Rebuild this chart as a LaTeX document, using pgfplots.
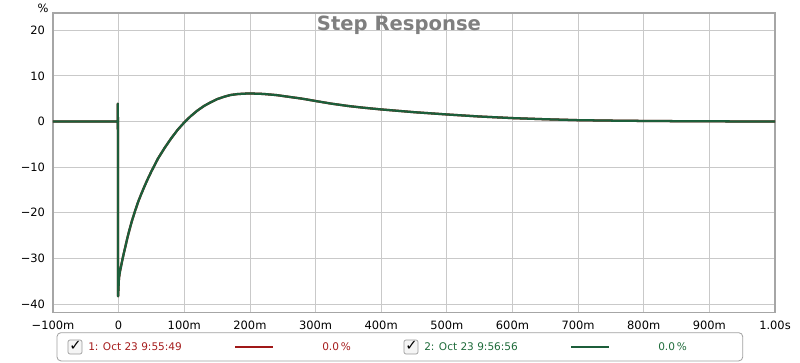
\documentclass[border=0pt]{standalone}
\usepackage{pgfplots}
\pgfplotsset{compat=1.18}
\usepackage{fontspec}
\setmainfont{DejaVu Sans}
\definecolor{axgray}{HTML}{A6A6A6}
\definecolor{gridgray}{HTML}{C9C9C9}
\definecolor{ttlgray}{HTML}{7F7F7F}
\definecolor{ser1}{HTML}{A01818}
\definecolor{ser2}{HTML}{1C5E3A}
\definecolor{txt1}{HTML}{A51C1C}
\definecolor{txt2}{HTML}{1E6B3A}
\pgfplotstableread{
t v
-100 0
-1.5 0
-1.2 3.9
-0.8 -38.3
0.5 -34.3
2 -32.9
4 -31.5
6 -30.1
8 -28.8
10 -27.6
13 -25.7
16 -24.0
20 -21.9
25 -19.6
30 -17.5
35 -15.7
40 -14.0
45 -12.4
50 -10.9
55 -9.5
60 -8.1
70 -5.8
80 -3.7
90 -1.8
100 -0.2
110 1.2
120 2.4
130 3.4
140 4.2
150 4.9
160 5.4
170 5.8
180 6.0
190 6.1
200 6.15
220 6.05
240 5.8
260 5.4
280 5.0
300 4.5
325 3.9
350 3.4
375 3.0
400 2.65
450 2.05
500 1.55
550 1.1
600 0.75
650 0.5
700 0.3
750 0.2
800 0.13
850 0.08
900 0.05
950 0.02
1000 0
}\datatab
\begin{document}
\begin{tikzpicture}
\path[use as bounding box] (-39.75pt,-38pt) rectangle (560.25pt,234.2pt);
\begin{axis}[
  at={(0,0)}, anchor=south west,
  scale only axis, width=541.5pt, height=224.5pt,
  xmin=-100, xmax=1000, ymin=-41.8, ymax=23.8,
  xtick={-100,0,100,200,300,400,500,600,700,800,900,1000},
  xticklabels={\textminus100m,0,100m,200m,300m,400m,500m,600m,700m,800m,900m,1.00s},
  ytick={-40,-30,-20,-10,0,10,20},
  yticklabels={\textminus40,\textminus30,\textminus20,\textminus10,0,10,20},
  major tick length=0pt,
  grid=major,
  grid style={gridgray, line width=0.6pt},
  axis line style={axgray, line width=1.1pt},
  tick label style={font=\fontsize{8.6}{10}\selectfont, text=black},
  xticklabel style={yshift=-3pt},
  yticklabel style={xshift=-2.5pt},
  clip=true,
]
\addplot[ser1, line width=1.7pt, line join=round] table[x=t,y=v] {\datatab};
\addplot[ser2, line width=1.7pt, line join=round] table[x=t,y=v] {\datatab};
\end{axis}
% title
\node[font=\fontsize{14.7}{16}\selectfont\bfseries, text=ttlgray] at (259.5pt,215.3pt) {Step Response};
% percent sign
\node[font=\fontsize{8.6}{10}\selectfont, anchor=north] at (-7.5pt,234.5pt) {\%};
% legend box
\draw[gray!75, line width=0.6pt, rounded corners=3pt] (3pt,-15.3pt) rectangle (517.3pt,-36.5pt);
\begin{scope}[font=\fontsize{7.9}{9}\selectfont]
\draw[gray!80, fill=gray!8, rounded corners=1.5pt, line width=0.5pt] (11.25pt,-20.8pt) rectangle (21.75pt,-31.3pt);
\node at (16.9pt,-25.4pt) {\fontsize{11}{11}\selectfont\bfseries ✓};
\node[anchor=west, text=txt1, inner sep=0pt] at (26.25pt,-26pt) {1: Oct 23 9:55:49};
\draw[ser1, line width=1.4pt] (136.5pt,-26pt) -- (165pt,-26pt);
\node[anchor=west, text=txt1, inner sep=0pt] at (201.75pt,-26pt) {0.0\,\%};
\draw[gray!80, fill=gray!8, rounded corners=1.5pt, line width=0.5pt] (263.25pt,-20.8pt) rectangle (273.75pt,-31.3pt);
\node at (268.9pt,-25.4pt) {\fontsize{11}{11}\selectfont\bfseries ✓};
\node[anchor=west, text=txt2, inner sep=0pt] at (278.25pt,-26pt) {2: Oct 23 9:56:56};
\draw[ser2, line width=1.4pt] (388.5pt,-26pt) -- (417pt,-26pt);
\node[anchor=west, text=txt2, inner sep=0pt] at (453.75pt,-26pt) {0.0\,\%};
\end{scope}
\end{tikzpicture}
\end{document}
